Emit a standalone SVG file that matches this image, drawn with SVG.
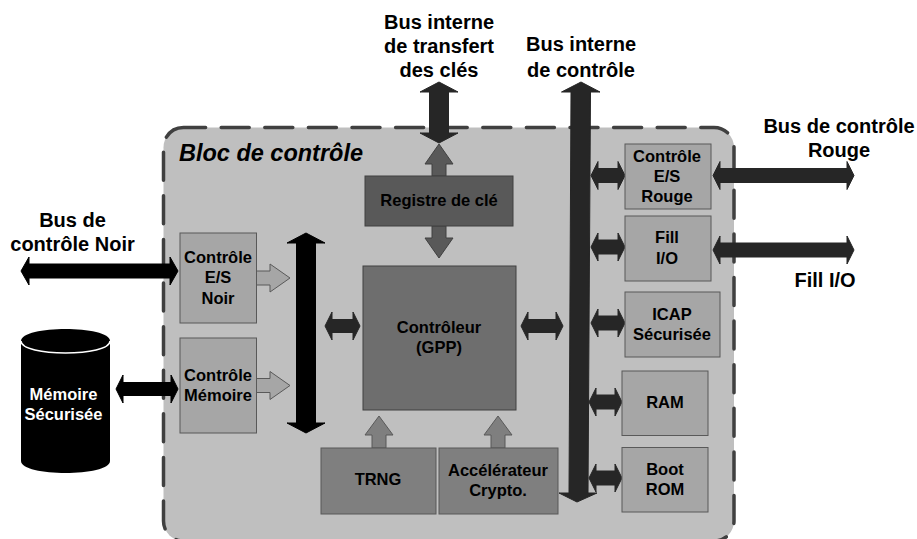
<svg xmlns="http://www.w3.org/2000/svg" width="917" height="539" viewBox="0 0 917 539">
<style>
text{font-family:"Liberation Sans",Arial,sans-serif;font-weight:700;text-anchor:middle;fill:#000}
.l{font-size:20px}
.n{font-size:16.500px}
.box{fill:#a6a6a6;stroke:#595959;stroke-width:1}
.blk{fill:#000;stroke:#000}
.drk{fill:#262626;stroke:#262626}
.lt{fill:#a6a6a6;stroke:#595959}
.mid{fill:#7f7f7f;stroke:#595959}
.reg{fill:#595959;stroke:#404040}
</style>
<rect id="bloc" x="163.500" y="127.500" width="570.500" height="413.500" rx="20" fill="#bfbfbf" stroke="#404040" stroke-width="3.500" stroke-dasharray="28 15.600" stroke-dashoffset="5.900" stroke-linecap="round"/>
<text x="271" y="161" font-size="23.500" font-style="italic">Bloc de contrôle</text>
<g id="connectors">
<path class="blk" d="M21 271l8-14v7h141v-7l8 14-8 14v-7h-141v7z"/>
<path class="blk" d="M116 389l7-14v7.500h48v-7.500l7 14-7 14v-7.500h-48v7.500z"/>
<path class="blk" d="M306 233l19 10h-9.500v180h9.500l-19 10-19-10h9.500v-180h-9.500z"/>
<path class="lt" d="M256.500 271h13.500v-7l20 14-20 14v-7h-13.500z"/>
<path class="lt" d="M256.500 378.500h13.500v-7l20 14-20 14v-7h-13.500z"/>
<path class="drk" d="M325 326l7-14v7.500h21v-7.500l7 14-7 14v-7.500h-21v7.500z"/>
<path class="drk" d="M521 326l7-14v7.500h28v-7.500l7 14-7 14v-7.500h-28v7.500z"/>
<path class="drk" d="M439 82l19 10h-9.500v41h9.500l-19 10-19-10h9.500v-41h-9.500z"/>
<path class="reg" d="M439 144l14 20h-7v12h-14v-12h-7z"/>
<path class="reg" d="M439 258l14-20h-7v-12h-14v12h-7z"/>
<path class="mid" d="M379 416l14 19h-7v13h-14v-13h-7z"/>
<path class="mid" d="M498 416l14 19h-7v13h-14v-13h-7z"/>
<path class="drk" d="M581 82l19 10h-9.500l-2.500 401h9l-20 9-18-9h10l2-401h-9.500z"/>
<path class="drk" d="M591 175.500l7-14v7h20v-7l7 14-7 14v-7h-20v7z"/>
<path class="drk" d="M591 247l7-14v7h20v-7l7 14-7 14v-7h-20v7z"/>
<path class="drk" d="M591 323l7-14v7h20v-7l7 14-7 14v-7h-20v7z"/>
<path class="drk" d="M589 402l7-14v7h19v-7l7 14-7 14v-7h-19v7z"/>
<path class="drk" d="M589 478l7-14v7h19v-7l7 14-7 14v-7h-19v7z"/>
<path class="drk" d="M713 175.500l7-14v7h127v-7l7 14-7 14v-7h-127v7z"/>
<path class="drk" d="M713 250l7-14v7h127v-7l7 14-7 14v-7h-127v7z"/>
</g>
<g id="memoire">
<path d="M21 341c0-16 89-16 89 0v120c0 16-89 16-89 0z" fill="#000"/>
<path d="M21 341c0 16 89 16 89 0" fill="none" stroke="#fff" stroke-width="1.500"/>
<text class="n" x="63.500" y="400" style="fill:#fff">Mémoire</text>
<text class="n" x="63.500" y="420" style="fill:#fff">Sécurisée</text>
</g>
<g id="ctrl-noir"><rect class="box" x="180" y="233" width="76.500" height="90"/>
<text class="n" x="218" y="263">Contrôle</text><text class="n" x="218" y="283">E/S</text><text class="n" x="218" y="304">Noir</text></g>
<g id="ctrl-mem"><rect class="box" x="180" y="338" width="76.500" height="95"/>
<text class="n" x="218" y="381">Contrôle</text><text class="n" x="218" y="401">Mémoire</text></g>
<g id="registre"><rect x="365" y="176" width="148" height="50" fill="#595959" stroke="#404040"/>
<text class="n" x="439" y="206">Registre de clé</text></g>
<g id="controleur"><rect x="363" y="266" width="153" height="144" fill="#6e6e6e" stroke="#404040"/>
<text class="n" x="439" y="333">Contrôleur</text><text class="n" x="439" y="353">(GPP)</text></g>
<g id="trng"><rect x="321" y="448" width="115" height="66" fill="#7f7f7f" stroke="#595959"/>
<text class="n" x="378" y="485">TRNG</text></g>
<g id="accel"><rect x="439" y="448" width="119" height="66" fill="#7f7f7f" stroke="#595959"/>
<text class="n" x="498" y="476">Accélérateur</text><text class="n" x="498" y="496">Crypto.</text></g>
<g id="ctrl-rouge"><rect class="box" x="625" y="144" width="86" height="65"/>
<text class="n" x="667" y="162">Contrôle</text><text class="n" x="667" y="182">E/S</text><text class="n" x="667" y="202">Rouge</text></g>
<g id="fill-io"><rect class="box" x="625" y="216" width="86" height="65"/>
<text class="n" x="667" y="243">Fill</text><text class="n" x="667" y="264">I/O</text></g>
<g id="icap"><rect class="box" x="625" y="292" width="95" height="65"/>
<text class="n" x="672" y="320">ICAP</text><text class="n" x="672" y="340">Sécurisée</text></g>
<g id="ram"><rect class="box" x="622" y="371" width="86" height="64.500"/>
<text class="n" x="665" y="408">RAM</text></g>
<g id="boot"><rect class="box" x="622" y="447.500" width="86" height="64.500"/>
<text class="n" x="665" y="475">Boot</text><text class="n" x="665" y="495">ROM</text></g>
<text class="l" x="72.500" y="227">Bus de</text>
<text class="l" x="72.500" y="251">contrôle Noir</text>
<text class="l" x="439" y="29">Bus interne</text>
<text class="l" x="439" y="53">de transfert</text>
<text class="l" x="439" y="77">des clés</text>
<text class="l" x="581" y="51">Bus interne</text>
<text class="l" x="581" y="77">de contrôle</text>
<text class="l" x="839" y="133">Bus de contrôle</text>
<text class="l" x="839" y="157">Rouge</text>
<text class="l" x="825" y="287">Fill I/O</text>
</svg>
